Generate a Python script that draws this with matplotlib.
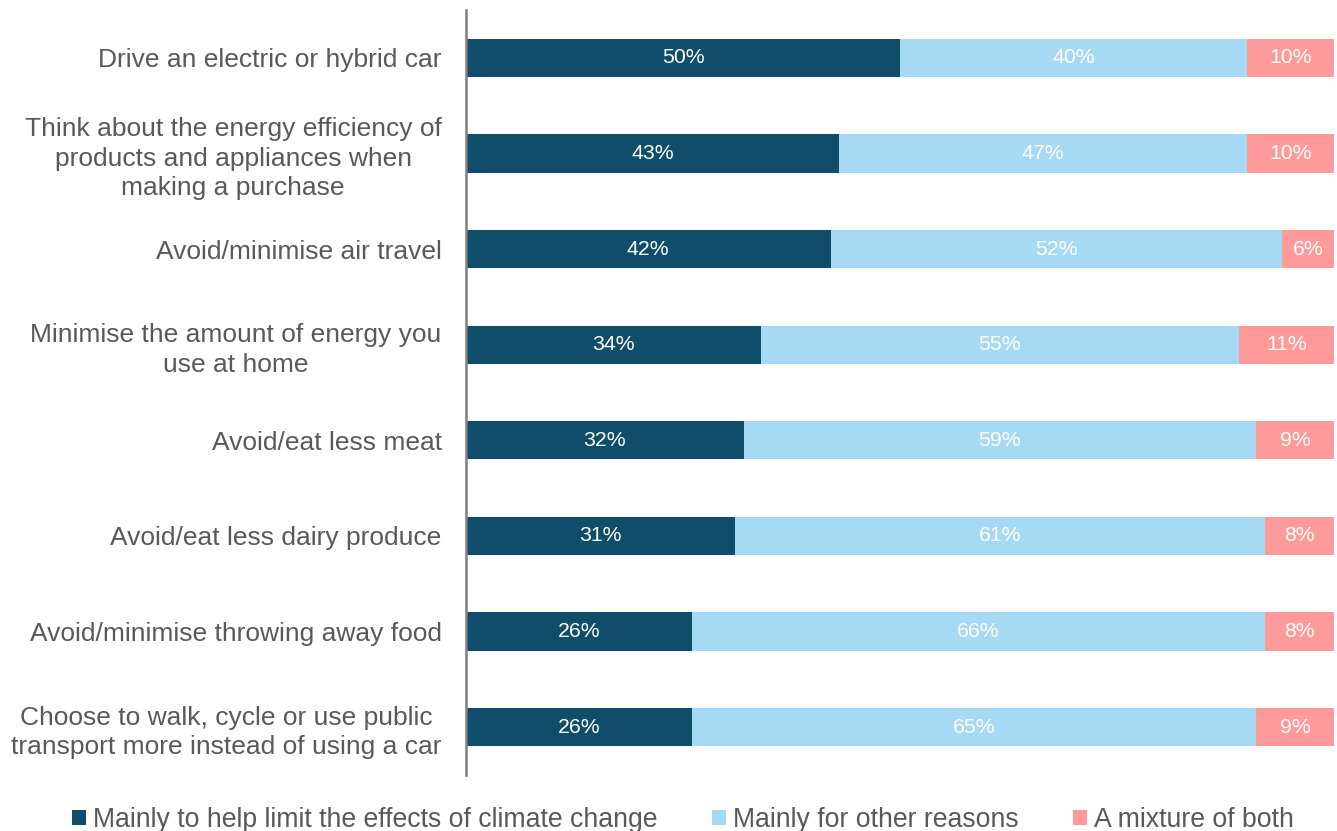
import matplotlib
matplotlib.use("Agg")
import matplotlib.pyplot as plt
import numpy as np
from matplotlib.patches import Patch

plt.rcParams['font.family'] = ['Liberation Sans', 'DejaVu Sans']

# actions, top to bottom
actions = [
    "Drive an electric or hybrid car",
    "Think about the energy efficiency of\nproducts and appliances when\nmaking a purchase",
    "Avoid/minimise air travel",
    "Minimise the amount of energy you\nuse at home",
    "Avoid/eat less meat",
    "Avoid/eat less dairy produce",
    "Avoid/minimise throwing away food",
    "Choose to walk, cycle or use public\ntransport more instead of using a car",
]
climate = [50, 43, 42, 34, 32, 31, 26, 26]
other = [40, 47, 52, 55, 59, 61, 66, 65]
mixture = [10, 10, 6, 11, 9, 8, 8, 9]

series_names = ["Mainly to help limit the effects of climate change",
                "Mainly for other reasons",
                "A mixture of both"]
colors = ["#0F4D6A", "#A6D9F3", "#FF9A9A"]
text_grey = "#595959"

fig = plt.figure(figsize=(13.37, 8.31), dpi=100)
ax = fig.add_axes([0.3485, 0.0674, 0.6493, 0.9206])

y = np.arange(len(actions))
left = np.zeros(len(actions))
for vals, col, name in zip([climate, other, mixture], colors, series_names):
    bars = ax.barh(y, vals, left=left, height=0.4, color=col, label=name)
    ax.bar_label(bars, labels=[f"{v}%" for v in vals], label_type='center',
                 color='white', fontsize=15.3)
    left += np.array(vals)

ax.set_xlim(0, 100)
ax.set_ylim(len(actions) - 0.5, -0.5)
ax.set_yticks(y)
ax.set_yticklabels(actions, fontsize=19, color=text_grey)
for lbl in ax.get_yticklabels():
    lbl.set_multialignment('center')
    lbl.set_linespacing(1.3)
ax.tick_params(axis='y', length=0, pad=17.5)
ax.set_xticks([])
for side in ['top', 'right', 'bottom']:
    ax.spines[side].set_visible(False)
ax.spines['left'].set_color('#7F7F7F')
ax.spines['left'].set_linewidth(1.8)

handles = [Patch(facecolor=c, edgecolor='none') for c in colors]
fig.legend(handles, series_names, loc='center', ncol=3,
           bbox_to_anchor=(0.511, 0.0135), frameon=False, fontsize=19.2,
           labelcolor=text_grey, handlelength=0.52, handleheight=0.52,
           handletextpad=0.26, columnspacing=2.05, borderpad=0)

fig.savefig("out.png", dpi=100)
